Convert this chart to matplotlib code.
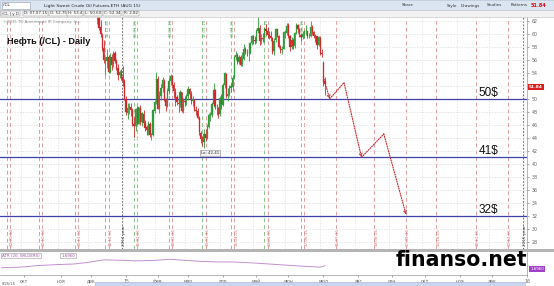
import numpy as np
import pandas as pd
import matplotlib
matplotlib.use("Agg")
import matplotlib.pyplot as plt
from matplotlib.patches import Rectangle

# ---- data ----
holidays = ['2014-11-27', '2014-12-25', '2015-01-01', '2015-01-19', '2015-02-16',
            '2015-04-03', '2015-05-25', '2015-07-03', '2015-09-07', '2015-11-26',
            '2015-12-25', '2016-01-01']

# daily OHLC, 09.12.2014 - 07.07.2015
opens = [63.10, 63.70, 61.00, 59.80, 57.90, 55.80, 55.90, 56.40, 54.20, 56.50, 55.30, 57.10, 55.80, 54.70, 53.60, 54.10,
         53.30, 52.70, 50.00, 47.90, 48.60, 48.80, 48.30, 46.10, 45.90, 48.40, 46.20, 48.60, 46.40, 47.70, 46.30, 45.60, 45.10, 46.20, 44.40, 44.50,
         48.20, 49.60, 53.00, 48.40, 50.50, 51.70, 52.80, 50.00, 48.90, 51.20, 52.80, 53.50, 52.10, 51.10, 50.30, 49.40, 49.30, 51.00, 48.20,
         49.70, 49.60, 50.50, 51.50, 50.70, 49.60, 49.90, 48.30, 48.10, 47.00, 44.80, 43.90, 43.40, 44.60, 44.00, 45.70, 47.40, 47.50, 49.20, 51.40, 48.80, 48.60,
         47.70, 50.00, 49.10, 52.10, 53.90, 50.40, 50.80, 51.60, 51.90, 53.30, 56.40, 56.70, 55.70, 56.40, 55.30, 56.20, 57.70, 57.10, 57.00, 57.10, 58.60,
         59.60, 59.10, 58.90, 60.40, 60.90, 58.90, 59.40, 59.30, 60.70, 60.50, 59.90, 59.70, 59.40, 57.30, 59.00, 60.70, 59.70, 58.00, 57.50, 57.70,
         60.20, 60.20, 61.30, 59.60, 58.00, 59.10, 58.10, 60.10, 61.40, 60.80, 59.90, 59.50, 60.00, 60.40, 60.40, 59.60, 59.70, 61.00, 60.30, 59.70, 59.60, 58.30,
         59.40, 57.00, 55.50, 52.75]
highs = [64.00, 63.88, 62.08, 60.10, 59.00, 56.40, 57.70, 56.80, 57.00, 56.90, 57.40, 57.30, 56.10, 55.40, 54.50, 54.60,
         55.10, 53.10, 50.40, 49.30, 49.30, 49.30, 48.60, 47.20, 48.60, 48.90, 48.80, 49.00, 48.00, 48.30, 46.80, 46.00, 46.60, 46.50, 44.80, 48.50,
         49.90, 54.20, 53.50, 51.20, 52.30, 53.30, 53.10, 50.20, 51.70, 53.20, 53.90, 53.60, 52.60, 51.60, 50.60, 50.00, 51.30, 51.10, 50.10,
         50.50, 50.70, 52.00, 51.70, 51.20, 50.50, 50.00, 48.90, 48.60, 47.30, 45.10, 44.30, 45.30, 45.30, 46.10, 47.80, 48.00, 49.50, 52.48, 51.50, 49.20, 48.80,
         50.40, 50.80, 52.50, 54.20, 54.00, 51.70, 52.20, 52.50, 53.70, 56.60, 57.40, 57.10, 56.70, 56.80, 57.20, 58.40, 58.00, 57.60, 57.40, 58.80, 59.90,
         59.90, 59.70, 60.70, 62.58, 61.40, 60.00, 60.10, 61.10, 61.50, 61.00, 60.40, 60.40, 59.50, 59.40, 60.90, 60.80, 59.90, 58.30, 58.20, 60.40,
         60.60, 61.60, 61.60, 59.90, 59.50, 59.40, 60.30, 61.60, 61.50, 60.90, 60.20, 60.40, 60.60, 61.30, 60.50, 60.20, 62.00, 61.40, 60.50, 60.00, 59.70, 59.70,
         59.60, 57.60, 55.80, 53.40]
lows = [61.59, 60.62, 59.50, 57.34, 55.50, 53.60, 54.70, 54.00, 54.00, 54.50, 54.90, 55.50, 54.50, 52.90, 53.20, 52.90,
        52.03, 49.77, 47.55, 46.83, 47.70, 47.30, 45.80, 44.20, 45.00, 46.00, 46.10, 46.00, 45.90, 46.00, 45.00, 44.50, 44.50, 44.20, 43.60, 44.30,
        47.90, 49.20, 48.40, 47.90, 49.80, 51.00, 49.70, 48.20, 48.70, 50.80, 52.10, 51.70, 50.10, 48.90, 49.00, 48.00, 48.70, 48.00, 47.90,
        48.90, 49.00, 49.80, 50.00, 49.20, 48.90, 48.10, 47.50, 46.90, 44.50, 43.20, 42.80, 42.41, 43.50, 43.80, 45.50, 46.60, 47.20, 48.80, 48.50, 47.50, 47.10,
        47.40, 48.50, 48.90, 51.70, 50.20, 49.70, 50.40, 51.00, 51.20, 53.00, 56.00, 55.30, 55.40, 55.10, 55.00, 56.00, 56.90, 56.60, 55.80, 56.90, 58.30,
        58.50, 58.50, 58.60, 60.10, 58.30, 58.50, 58.80, 58.70, 59.90, 59.30, 59.20, 58.90, 56.90, 56.70, 58.80, 59.50, 57.80, 57.10, 56.90, 57.60,
        59.40, 59.90, 59.40, 57.40, 57.70, 57.60, 57.90, 60.00, 60.20, 59.50, 58.90, 59.20, 59.30, 59.90, 59.40, 59.30, 59.50, 59.90, 59.30, 58.80, 57.70, 58.10,
        56.70, 56.50, 52.00, 50.60]
closes = [63.82, 60.94, 59.95, 57.81, 55.91, 55.93, 56.47, 54.11, 56.52, 55.26, 57.12, 55.84, 54.73, 53.61, 54.12, 53.27,
          52.69, 50.04, 47.93, 48.65, 48.79, 48.36, 46.07, 45.89, 48.48, 46.25, 48.69, 46.39, 47.78, 46.31, 45.59, 45.15, 46.23, 44.45, 44.53, 48.24,
          49.57, 53.05, 48.45, 50.48, 51.69, 52.86, 50.02, 48.84, 51.21, 52.78, 53.53, 52.14, 51.16, 50.34, 49.45, 49.25, 50.99, 48.17, 49.76,
          49.59, 50.52, 51.53, 50.76, 49.61, 50.00, 48.29, 48.17, 47.05, 44.84, 43.88, 43.46, 44.66, 43.96, 45.72, 47.45, 47.51, 49.21, 51.43, 48.87, 48.68, 47.60,
          50.09, 49.14, 52.14, 53.98, 50.42, 50.79, 51.64, 51.91, 53.29, 56.39, 56.71, 55.74, 56.38, 55.26, 56.16, 57.74, 57.15, 56.99, 57.06, 58.58, 59.63,
          59.15, 58.93, 60.40, 60.93, 58.94, 59.39, 59.25, 60.75, 60.50, 59.88, 59.69, 59.43, 57.26, 58.98, 60.72, 59.72, 58.03, 57.51, 57.68, 60.30,
          60.20, 61.26, 59.64, 58.00, 59.13, 58.14, 60.14, 61.43, 60.77, 59.96, 59.52, 59.97, 60.45, 60.45, 59.61, 59.68, 61.01, 60.27, 59.70, 59.63, 58.33, 59.47,
          56.96, 56.93, 52.53, 52.34]
last_price = 51.84

target_levels = [50, 41, 32]
target_labels = ['50$', '41$', '32$']

forecast_dates = ['2015-07-06', '2015-07-10', '2015-07-23', '2015-08-07', '2015-08-27', '2015-09-17']
forecast_prices = [53.4, 50.0, 52.5, 41.0, 44.6, 32.2]

cycle_dates = ['2014-09-22', '2014-10-20', '2014-11-20', '2014-12-18', '2015-01-15', '2015-02-18',
               '2015-03-19', '2015-04-15', '2015-05-14', '2015-06-17', '2015-07-16', '2015-08-19',
               '2015-09-17', '2015-10-14', '2015-11-18', '2015-12-17']

atr_dates = ['2014-09-15', '2014-10-01', '2014-10-15', '2014-11-03', '2014-11-17', '2014-12-01',
             '2014-12-15', '2015-01-02', '2015-01-15', '2015-02-02', '2015-02-17', '2015-03-02',
             '2015-03-16', '2015-04-01', '2015-04-15', '2015-05-01', '2015-05-15', '2015-06-01',
             '2015-06-15', '2015-07-01', '2015-07-07']
atr_values = [1.38, 1.47, 1.72, 1.89, 1.98, 2.24, 2.66, 2.58, 2.49, 2.58, 2.75, 2.58,
              2.41, 2.32, 2.32, 2.15, 1.98, 1.81, 1.64, 1.47, 1.70]

month_starts = ['2014-10-01', '2014-11-01', '2014-12-01', '2015-01-01', '2015-02-01', '2015-03-01',
                '2015-04-01', '2015-05-01', '2015-06-01', '2015-07-01', '2015-08-01', '2015-09-01',
                '2015-10-01', '2015-11-01', '2015-12-01', '2016-01-01']
month_labels = ['окт', 'ноя', 'дек', '15', 'фев', 'мар', 'апр', 'май', 'июн', 'июл',
                'авг', 'сен', 'окт', 'ноя', 'дек', '16']

price_ticks = list(range(28, 63, 2))

# ---- trading-day calendar used as x axis ----
days = pd.bdate_range('2014-09-02', '2016-01-20', freq='C', holidays=holidays)
origin = days.get_loc(pd.Timestamp('2015-01-02'))


def tpos(d):
    i = days.searchsorted(pd.Timestamp(d))
    return i - origin


candle_days = days[(days >= '2014-12-09') & (days <= '2015-07-07')]
xs = np.array([tpos(d) for d in candle_days])
o, h, l, c = map(np.array, (opens, highs, lows, closes))

W, H = 554, 286


def fr(x0, y0, x1, y1):
    return [x0 / W, 1 - y1 / H, (x1 - x0) / W, (y1 - y0) / H]


XL = (-77.2, 254.0)

fig = plt.figure(figsize=(W / 100, H / 100), dpi=100)
fig.patch.set_facecolor('white')

# header bars
fig.patches.append(Rectangle((0, 1 - 10 / H), 1, 10 / H, transform=fig.transFigure,
                             fc='#dbe5f1', ec='#a9b8cc', lw=0.4))
fig.patches.append(Rectangle((0, 1 - 17 / H), 1, 7 / H, transform=fig.transFigure,
                             fc='#f2f2f2', ec='#c0c0c0', lw=0.4))
hb = dict(boxstyle='square,pad=0.25', fc='white', ec='#8a9bb5', lw=0.4)
fig.text(3 / W, 1 - 5.5 / H, '/CL              ', fontsize=3.2, va='center', color='#222', bbox=hb)
fig.text(44 / W, 1 - 5.5 / H, 'Light Sweet Crude Oil Futures,ETH (AUG 15)', fontsize=3.2,
         va='center', color='#222')
for tx, lab in [(402, 'Share'), (447, 'Style'), (461, 'Drawings'), (487, 'Studies'), (511, 'Patterns')]:
    fig.text(tx / W, 1 - 5.5 / H, lab, fontsize=3.0, va='center', color='#333')
fig.text(531 / W, 1 - 5.5 / H, '%.2f' % last_price, fontsize=3.6, va='center', color='#d01010',
         fontweight='bold')
ib = dict(boxstyle='square,pad=0.2', fc='#f8f8f8', ec='#9a9a9a', lw=0.35)
for tx, lab in [(2, '/CL | y D'), (24, 'D: 07.07.15'), (50, 'O: 52.75'), (68, 'H: 53.4'),
                (85, 'L: 50.60'), (104, 'C: 52.34'), (124, 'R: 2.82')]:
    fig.text(tx / W, 1 - 13.5 / H, lab, fontsize=2.9, va='center', color='#333', bbox=ib)

# ---- price panel ----
ax = fig.add_axes(fr(0, 17, 527, 249))
ax.set_xlim(*XL)
ax.set_ylim(26.9, 62.6)
ax.set_yticks(price_ticks)
# the live-price box covers the 52 label, as in the platform
ax.set_yticklabels(['' if abs(t - last_price) < 1 else str(t) for t in price_ticks])
ax.yaxis.tick_right()
ax.tick_params(axis='y', labelsize=3.4, colors='#666', length=1.5, width=0.4, pad=2)
ax.tick_params(axis='x', length=0, labelbottom=False)
for s in ['top', 'left', 'bottom']:
    ax.spines[s].set_visible(False)
ax.spines['right'].set_color('#999')
ax.spines['right'].set_linewidth(0.5)
ax.grid(axis='y', color='#dadada', ls=(0, (2, 2)), lw=0.5)

mpos = [tpos(m) for m in month_starts]
for mp in mpos:
    ax.axvline(mp, color='#dedede', ls=(0, (2, 2)), lw=0.5, zorder=0)

for i, d in enumerate(cycle_dates):
    x = tpos(d)
    ax.axvline(x, color='#e2a0a0', ls=(0, (4, 3)), lw=0.7, zorder=1)
    ax.text(x + 1.2, 27.4, pd.Timestamp(d).strftime('%d.%m.%y'), rotation=90, fontsize=3,
            color='#d47878', ha='center', va='bottom')
    if i < 10:
        ax.axvline(x - 2, color='#8cc48c', ls=(0, (4, 3)), lw=0.7, zorder=1)
        if i >= 3:
            gd = days[origin + x - 2]
            ax.text(x - 0.8, 62.3, gd.strftime('%d.%m.%y'), rotation=90, fontsize=3,
                    color='#5aa85a', ha='center', va='top')

for yr, xp in [('2014 year', -0.5), ('2015 year', tpos('2015-12-31') + 0.5)]:
    ax.axvline(xp, color='#555', ls=(0, (2, 2)), lw=0.6, zorder=1)
    ax.text(xp + 1.3, 27.4, yr, rotation=90, fontsize=3, color='#444', ha='center', va='bottom')

for lvl, lab in zip(target_levels, target_labels):
    ax.axhline(lvl, color='#3f3fa8', lw=0.9, zorder=2)
    ax.text(tpos('2015-11-20') - 0.5, lvl + 0.45, lab, fontsize=8.5, family='Liberation Sans',
            color='#111', va='baseline', ha='left')

up = c >= o
cols = np.where(up, '#2f9a3a', '#d02828')
ax.vlines(xs, l, h, colors=cols, lw=0.6, zorder=3)
ax.bar(xs, np.maximum(np.abs(c - o), 0.06), bottom=np.minimum(o, c), width=0.8,
       color=cols, edgecolor=cols, lw=0.2, zorder=4)

ilow = int(np.argmin(l))
ax.text(xs[ilow] - 2, l[ilow] - 0.45, 'Lo: %.2f' % l[ilow], fontsize=2.8, color='#333',
        ha='left', va='top', zorder=6,
        bbox=dict(boxstyle='square,pad=0.25', fc='#f2f2f2', ec='#888', lw=0.4))

fx = [tpos(d) for d in forecast_dates]
for k in range(len(fx) - 1):
    down = forecast_prices[k + 1] < forecast_prices[k]
    ax.annotate('', xy=(fx[k + 1], forecast_prices[k + 1]), xytext=(fx[k], forecast_prices[k]),
                arrowprops=dict(arrowstyle='->' if down else '-', color='#c62828', lw=0.8,
                                ls=(0, (1, 1.2)), shrinkA=0, shrinkB=0, mutation_scale=5),
                zorder=5)

ax.text(1.004, last_price, '%.2f' % last_price, transform=ax.get_yaxis_transform(), fontsize=3.2,
        color='white', va='center', ha='left', fontweight='bold', zorder=7, clip_on=False,
        bbox=dict(boxstyle='square,pad=0.2', fc='#d81e1e', ec='none'))

ax.text(0.005, 0.985, '©2015 TD Ameritrade IP Company, Inc.', transform=ax.transAxes,
        fontsize=2.8, color='#888', va='top', ha='left')
ax.text(0.013, 0.915, 'Нефть (/CL) - Daily', transform=ax.transAxes, fontsize=6.6,
        fontweight='bold', family='Liberation Sans', color='#111', va='top', ha='left', zorder=8)

# separator
fig.patches.append(Rectangle((0, 1 - 252 / H), 1, 3 / H, transform=fig.transFigure,
                             fc='#b4b4b4', ec='none'))

# ---- ATR panel ----
ax2 = fig.add_axes(fr(0, 252, 527, 275))
ax2.set_xlim(*XL)
ax2.set_ylim(0.19, 3.94)
ax2.plot([tpos(d) for d in atr_dates], atr_values, color='#c58fcf', lw=0.7)
ax2.set_yticks([])
ax2.set_xticks([m + 2 for m in mpos])
ax2.set_xticklabels(month_labels)
ax2.tick_params(axis='x', labelsize=3.3, colors='#666', length=1.5, width=0.4, pad=1.2)
for s in ['top', 'left']:
    ax2.spines[s].set_visible(False)
for s in ['right', 'bottom']:
    ax2.spines[s].set_color('#999')
    ax2.spines[s].set_linewidth(0.5)
ab = dict(boxstyle='square,pad=0.2', fc='white', ec='#999', lw=0.4)
ax2.text(0.004, 0.93, 'ATR (20, WILDERS)', transform=ax2.transAxes, fontsize=2.9,
         color='#a050a8', va='top', ha='left', bbox=ab)
ax2.text(0.116, 0.93, '1.6960', transform=ax2.transAxes, fontsize=2.9,
         color='#a050a8', va='top', ha='left', bbox=ab)
ax2.text(1.006, atr_values[-1] - 0.5, '1.6960', transform=ax2.get_yaxis_transform(), fontsize=2.9,
         color='white', va='center', ha='left', clip_on=False,
         bbox=dict(boxstyle='square,pad=0.2', fc='#a040c8', ec='none'))

# bottom scroll bar
fig.patches.append(Rectangle((95 / W, 0), 430 / W, 4.5 / H, transform=fig.transFigure,
                             fc='#c9d5ee', ec='#9fb0d4', lw=0.4))
fig.text(2 / W, 2.3 / H, '8/25/15', fontsize=2.6, color='#555', va='center')

fig.text(396 / W, 1 - 266 / H, 'finanso.net', fontsize=14.8, fontweight='bold',
         color='black', va='baseline', ha='left', zorder=20)

fig.savefig('out.png', dpi=100)
